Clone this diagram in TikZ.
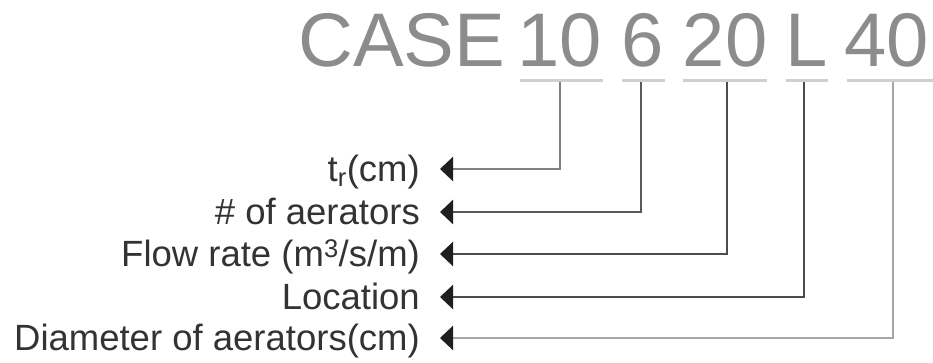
\documentclass[tikz,border=0pt]{standalone}
\usepackage{fontspec}
\setmainfont{Liberation Sans}
\usetikzlibrary{arrows.meta}
\definecolor{casegray}{HTML}{8C8C8C}
\definecolor{labgray}{HTML}{333333}
\definecolor{ulgray}{HTML}{CFCFCF}
\tikzset{
  codetext/.style={inner sep=0pt, anchor=base, text=casegray, font=\fontsize{76}{76}\selectfont},
  labeltext/.style={inner sep=0pt, anchor=base east, text=labgray, font=\fontsize{36.5}{40}\selectfont},
  uline/.style={draw=ulgray, line width=3pt},
  conn/.style={line width=2.4pt, -{Triangle[length=13pt,width=24pt,color=black!88]}},
}
\begin{document}
\begin{tikzpicture}[x=1pt,y=-1pt]
\useasboundingbox (0,0) rectangle (933,363);
% code pieces
\node[codetext, anchor=base west] (case) at (298,67) {CASE};
\node[codetext] (c10) at (559.5,67) {10};
\node[codetext] (c6) at (642.5,67) {6};
\node[codetext] (c20) at (725,67) {20};
\node[codetext] (cL) at (807,67) {L};
\node[codetext] (c40) at (886.5,67) {40};
% underlines
\draw[uline] (520,81) -- (603,81);
\draw[uline] (622,81) -- (665,81);
\draw[uline] (683,81) -- (767,81);
\draw[uline] (786,81) -- (828,81);
\draw[uline] (847,81) -- (933,81);
% connector start points
\coordinate (s10) at (560,82);
\coordinate (s6) at (641,82);
\coordinate (s20) at (727,82);
\coordinate (sL) at (804,82);
\coordinate (s40) at (893,82);
% arrow ends
\coordinate (e1) at (440,169);
\coordinate (e2) at (440,212);
\coordinate (e3) at (440,254);
\coordinate (e4) at (440,297);
\coordinate (e5) at (440,338);
% labels
\node[labeltext] (l1) at (420,181.5) {t\textsubscript{r}(cm)};
\node[labeltext] (l2) at (420,224.5) {\# of aerators};
\node[labeltext] (l3) at (420,266.5) {Flow rate (m\textsuperscript{3}/s/m)};
\node[labeltext] (l4) at (420,309.5) {Location};
\node[labeltext] (l5) at (420,350.5) {Diameter of aerators(cm)};
% connectors
\draw[conn, draw=black!50] (s10) |- (e1);
\draw[conn, draw=black!65] (s6) |- (e2);
\draw[conn, draw=black!70] (s20) |- (e3);
\draw[conn, draw=black!70] (sL) |- (e4);
\draw[conn, draw=black!35] (s40) |- (e5);
\end{tikzpicture}
\end{document}
